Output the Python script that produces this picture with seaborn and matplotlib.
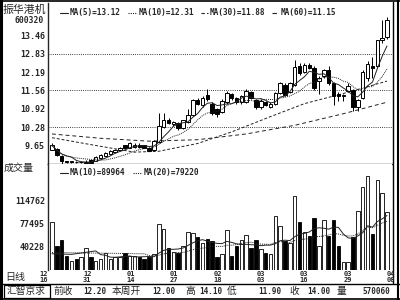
import numpy as np
import pandas as pd
import matplotlib
matplotlib.use("Agg")
import matplotlib.pyplot as plt
from matplotlib.patches import Rectangle
import seaborn as sns

# ---------------- data ----------------
opens = [9.50, 9.52, 9.30, 9.10, 9.08, 9.09, 9.07, 9.06, 9.14, 9.12,
         9.22, 9.30, 9.36, 9.42, 9.48, 9.66, 9.58, 9.60, 9.68, 9.66,
         9.58, 9.48, 9.78, 10.28, 10.55, 10.38, 10.42, 10.25, 10.45, 10.70,
         11.22, 11.04, 11.40, 11.10, 10.92, 10.80, 11.15, 11.42, 11.28, 11.14,
         11.15, 11.50, 11.22, 10.98, 11.15, 11.00, 11.10, 11.48, 11.75, 11.50,
         11.75, 12.42, 12.20, 12.45, 12.35, 11.90, 12.05, 12.25, 11.80, 11.42,
         11.38, 11.55, 11.58, 10.98, 11.30, 12.00, 12.42, 12.42, 13.30, 13.40]
highs = [9.72, 9.55, 9.32, 9.12, 9.12, 9.11, 9.12, 9.16, 9.16, 9.27,
         9.35, 9.42, 9.48, 9.54, 9.60, 9.68, 9.78, 9.72, 9.72, 9.68,
         9.60, 9.85, 10.79, 10.79, 10.60, 10.50, 10.45, 10.55, 10.92, 11.26,
         11.30, 11.35, 11.60, 11.15, 10.95, 11.25, 11.55, 11.46, 11.32, 11.40,
         11.60, 11.55, 11.25, 11.25, 11.18, 11.14, 11.52, 11.85, 11.80, 11.85,
         12.60, 12.50, 12.52, 12.50, 12.40, 12.05, 12.30, 12.42, 11.85, 11.50,
         11.45, 11.82, 11.62, 11.25, 12.25, 12.59, 12.70, 13.32, 13.98, 14.10]
lows = [9.48, 9.30, 8.98, 9.05, 9.05, 9.05, 9.04, 9.04, 9.03, 9.10,
        9.20, 9.28, 9.34, 9.40, 9.46, 9.55, 9.56, 9.58, 9.58, 9.55,
        9.45, 9.46, 9.75, 10.25, 10.38, 10.33, 10.20, 10.22, 10.42, 10.66,
        11.05, 11.00, 11.20, 10.72, 10.65, 10.76, 11.10, 11.24, 11.08, 11.10,
        11.12, 11.26, 10.92, 10.90, 11.02, 10.96, 11.06, 11.44, 11.36, 11.46,
        11.70, 12.10, 12.15, 12.30, 11.58, 11.45, 12.00, 11.75, 11.04, 11.20,
        11.20, 11.50, 10.86, 10.86, 11.25, 11.90, 12.00, 12.38, 13.20, 13.35]
closes = [9.65, 9.32, 9.10, 9.08, 9.10, 9.07, 9.08, 9.06, 9.05, 9.25,
          9.32, 9.38, 9.45, 9.50, 9.58, 9.57, 9.75, 9.68, 9.60, 9.58,
          9.47, 9.82, 10.34, 10.55, 10.42, 10.45, 10.25, 10.52, 10.70, 11.22,
          11.10, 11.30, 11.25, 10.78, 10.74, 11.20, 11.48, 11.28, 11.14, 11.35,
          11.55, 11.30, 10.97, 11.20, 11.05, 11.10, 11.48, 11.80, 11.40, 11.80,
          12.36, 12.15, 12.45, 12.34, 11.63, 12.00, 12.25, 11.80, 11.38, 11.38,
          11.40, 11.72, 10.97, 11.21, 12.20, 12.49, 12.35, 13.29, 13.36, 14.00]
volumes = [79000, 40000, 50000, 24000, 16000, 19000, 22000, 38000, 22000, 16000,
           19000, 30000, 19000, 22000, 22000, 30000, 25000, 24000, 22000, 19000,
           22000, 27000, 76000, 68000, 38000, 31000, 30000, 40000, 63000, 62000,
           55000, 45000, 52000, 48000, 22000, 27000, 66000, 24000, 40000, 51000,
           58000, 38000, 50000, 35000, 30000, 28000, 89000, 72600, 48000, 45000,
           121000, 79000, 63000, 57000, 85600, 40000, 82300, 57000, 82000, 40000,
           15000, 15000, 55000, 97000, 136000, 153600, 60000, 147000, 126000, 95000]

# long moving averages (they use history before the window)
ma30_idx = [0, 8, 17, 22, 30, 37, 45, 52, 60, 69]
ma30_val = [9.92, 9.68, 9.42, 9.45, 9.72, 10.12, 10.65, 11.10, 11.45, 11.88]
ma60_idx = [0, 10, 20, 30, 40, 50, 60, 69]
ma60_val = [10.05, 9.90, 9.80, 9.85, 10.05, 10.35, 10.75, 11.15]
# start of the volume averages, before a full window exists (traced)
vma10_head_idx = [0, 4]
vma10_head_val = [28000, 27000]
vma20_head_idx = [0, 10]
vma20_head_val = [30000, 29000]

price_ticks = [13.46, 12.83, 12.19, 11.56, 10.92, 10.28, 9.65]
grid_prices = [12.83, 11.56, 10.28]
vol_ticks = [114762, 77495, 40228]
date_top = ["12", "12", "01", "01", "02", "03", "03", "03", "04"]
date_bot = ["16", "31", "14", "27", "18", "03", "16", "29", "08"]

legend_price = ["MA(5)=13.12", "MA(10)=12.31", "MA(30)=11.88", "MA(60)=11.15"]
legend_vol = ["MA(10)=89964", "MA(20)=79220"]
info_labels = ["前收", "本周开", "高", "低", "收", "量"]
info_values = ["12.20", "12.00", "14.10", "11.90", "14.00", "570060"]

# ---------------- figure ----------------
sns.set_style("white")
plt.rcParams['font.family'] = ['DejaVu Sans Mono', 'Noto Sans CJK SC']
CJK = ['Noto Sans CJK SC', 'DejaVu Sans']
MONO = ['DejaVu Sans Mono']

W, H = 400, 300
fig = plt.figure(figsize=(4, 3), dpi=100)
fig.patch.set_facecolor("white")


def box(x0, y0, x1, y1):
    return [x0 / W, 1 - y1 / H, (x1 - x0) / W, (y1 - y0) / H]


n = len(closes)
idx = np.arange(n)
x_first, spacing = 52.0, 4.855
xl = (-(x_first - 48) / spacing, (n - 1) + (392 - (x_first + spacing * (n - 1))) / spacing)

SOLID = "-"
DOT = (0, (1, 1))
DASH30 = (0, (3, 2))
DASH60 = (0, (4, 3))
LC = "#222222"

# ---- price panel ----
axp = fig.add_axes(box(48, 3, 392, 164))
axp.set_xlim(*xl)
axp.set_ylim(9.009, 14.586)
for p in grid_prices:
    axp.axhline(p, color="black", lw=0.6, ls=(0, (1, 1.6)), zorder=1)

o = np.array(opens); c = np.array(closes); h = np.array(highs); l = np.array(lows)
up = c >= o
axp.vlines(idx, l, h, color="black", lw=0.7, zorder=3)
bottoms = np.minimum(o, c)
heights = np.maximum(np.abs(c - o), 0.012)
axp.bar(idx, heights, bottom=bottoms, width=0.72,
        color=np.where(up, "white", "black"), edgecolor="black", linewidth=0.7, zorder=4)

s = pd.Series(closes)
df = pd.DataFrame({"i": idx, "ma5": s.rolling(5, min_periods=1).mean(),
                   "ma10": s.rolling(10, min_periods=1).mean()})
sns.lineplot(data=df, x="i", y="ma5", ax=axp, color=LC, lw=0.7, zorder=5)
sns.lineplot(data=df, x="i", y="ma10", ax=axp, color=LC, lw=0.7, linestyle=DOT, zorder=5)
sns.lineplot(x=ma30_idx, y=ma30_val, ax=axp, color=LC, lw=0.7, linestyle=DASH30, zorder=2)
sns.lineplot(x=ma60_idx, y=ma60_val, ax=axp, color=LC, lw=0.7, linestyle=DASH60, zorder=2)

axp.set_yticks(price_ticks)
axp.set_yticklabels([f"{v:.2f}" for v in price_ticks], fontsize=6,
                    fontweight="bold", family=MONO)
axp.tick_params(axis="y", length=0, pad=2.2)
axp.set_xticks([])
axp.set_xlabel(""); axp.set_ylabel("")
for sp in ["top", "right"]:
    axp.spines[sp].set_visible(False)
axp.spines["left"].set_linewidth(1.0)
axp.spines["bottom"].set_linewidth(1.0)

# ---- volume panel ----
axv = fig.add_axes(box(48, 164, 392, 270))
axv.set_xlim(*xl)
axv.set_ylim(1672, 173392)
v = np.array(volumes)
axv.bar(idx, v, width=0.72, color=np.where(up, "white", "black"),
        edgecolor="black", linewidth=0.6, zorder=3)
vs = pd.Series(volumes)
m10 = vs.rolling(10).mean()
m20 = vs.rolling(20).mean()
x10 = list(vma10_head_idx) + list(idx[9:])
y10 = list(vma10_head_val) + list(m10.values[9:])
x20 = list(vma20_head_idx) + list(idx[19:])
y20 = list(vma20_head_val) + list(m20.values[19:])
sns.lineplot(x=x10, y=y10, ax=axv, color=LC, lw=0.7, zorder=4, sort=False)
sns.lineplot(x=x20, y=y20, ax=axv, color=LC, lw=0.7, linestyle=DOT, zorder=4, sort=False)
axv.set_yticks(vol_ticks)
axv.set_yticklabels([str(t) for t in vol_ticks], fontsize=6, fontweight="bold", family=MONO)
axv.tick_params(axis="y", length=0, pad=2.2)
axv.set_xticks([])
axv.set_xlabel(""); axv.set_ylabel("")
for sp in ["top", "right", "bottom"]:
    axv.spines[sp].set_visible(False)
axv.spines["left"].set_linewidth(1.0)

# ---- overlay in pixel coordinates for frame and texts ----
ov = fig.add_axes([0, 0, 1, 1], zorder=10)
ov.set_xlim(0, W); ov.set_ylim(H, 0); ov.axis("off"); ov.patch.set_alpha(0)

# frame
ov.plot([1, 1], [0, 300], color="black", lw=2.2)
ov.plot([0, 400], [1, 1], color="black", lw=1.2)
ov.plot([0, 400], [299, 299], color="black", lw=1.2)
ov.plot([392.5, 392.5], [2, 283], color="black", lw=1.0)
ov.plot([397.5, 397.5], [0, 300], color="black", lw=1.5)
ov.plot([0, 400], [283.5, 283.5], color="black", lw=1.0)
ov.add_patch(Rectangle((3.5, 285), 46, 12.5, fill=False, ec="black", lw=0.9))

ov.text(3, 10, "振华港机", family=CJK, fontsize=7.8, va="center", ha="left")
ov.text(44, 20.5, "600320", family=MONO, fontsize=5.8, fontweight="bold", va="center", ha="right")
ov.text(4, 168, "成交量", family=CJK, fontsize=7.2, va="center", ha="left")
ov.text(5, 277, "日线", family=CJK, fontsize=7.2, va="center", ha="left")

# legends: short line sample + text
for (x0, x1), st, t in zip([(60, 68), (128, 137), (201, 208), (272, 279)],
                           [SOLID, DOT, DASH30, DASH60], legend_price):
    ov.plot([x0, x1], [12.5, 12.5], color=LC, lw=0.8, ls=st)
    ov.text(x1 + 1.5, 12.5, t, family=MONO, fontsize=5.6, fontweight="bold", va="center", ha="left")
for (x0, x1), st, t in zip([(60, 68), (133, 142)], [SOLID, DOT], legend_vol):
    ov.plot([x0, x1], [172.5, 172.5], color=LC, lw=0.8, ls=st)
    ov.text(x1 + 1.5, 172.5, t, family=MONO, fontsize=5.6, fontweight="bold", va="center", ha="left")

# date labels under the volume panel (positions in bar units), month over day
first, step = -1.65, 8.93
for k, (a, b) in enumerate(zip(date_top, date_bot)):
    px = x_first + spacing * (first + k * step)
    ov.text(px, 276.8, a + "\n" + b, family=MONO, fontsize=5.0, fontweight="bold",
            va="center", ha="center", linespacing=1.0)

# bottom info bar
ov.text(26.5, 291, "汇智京求", family=CJK, fontsize=7.0, va="center", ha="center")
lab_x = [53, 112, 185, 227, 289, 337]
val_x = [83, 152, 199, 258, 307, 362]
for x0, t in zip(lab_x, info_labels):
    ov.text(x0, 291, t, family=CJK, fontsize=7.0, va="center", ha="left")
for x0, t in zip(val_x, info_values):
    ov.text(x0, 291, t, family=MONO, fontsize=5.5, fontweight="bold", va="center", ha="left")

fig.savefig("out.png", dpi=100)
